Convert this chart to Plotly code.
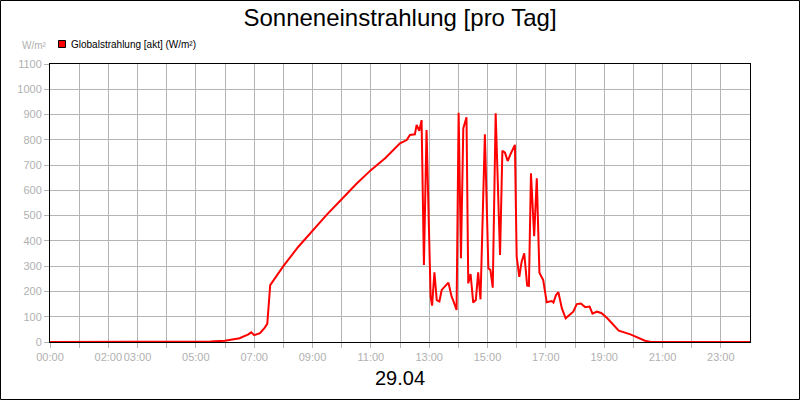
import plotly.graph_objects as go

hours = [0, 5.0, 5.5, 6.0, 6.5, 6.8, 6.9, 7.0, 7.2, 7.35, 7.45, 7.55, 8.0, 8.5, 9.0, 9.5, 10.0, 10.5, 11.0, 11.5, 12.0,
         12.23, 12.34, 12.51, 12.57, 12.66, 12.74, 12.82, 12.91, 13.05, 13.10, 13.18, 13.26, 13.35, 13.43, 13.66, 13.77, 13.82, 13.94,
         14.01, 14.09, 14.17, 14.28, 14.34, 14.42, 14.51, 14.60, 14.68, 14.76, 14.91, 15.03, 15.10, 15.18, 15.28, 15.43, 15.51, 15.60,
         15.69, 15.80, 15.94, 16.0, 16.09, 16.17, 16.26, 16.36, 16.42, 16.49, 16.6, 16.69, 16.78, 16.91, 17.03, 17.2, 17.26, 17.35,
         17.43, 17.55, 17.68, 17.94, 18.06, 18.2, 18.35, 18.5, 18.6, 18.75, 18.9, 19.1, 19.25, 19.5, 19.9, 20.2, 20.4, 20.6, 24.0]
values = [0, 0, 2, 5, 15, 30, 38, 27, 35, 55, 72, 225, 300, 375, 440, 505, 565, 625, 680, 728, 786,
          799, 819, 822, 859, 836, 878, 305, 839, 179, 144, 276, 166, 160, 206, 235, 179, 166, 127,
          907, 331, 845, 889, 232, 269, 156, 166, 276, 169, 822, 292, 285, 215, 905, 344, 757, 749,
          716, 746, 780, 338, 258, 318, 351, 223, 222, 668, 419, 648, 274, 245, 157, 162, 156, 186,
          197, 133, 94, 120, 150, 152, 138, 140, 112, 120, 115, 95, 75, 45, 30, 15, 5, 0, 0]

tick_vals = [0, 2, 3, 5, 7, 9, 11, 13, 15, 17, 19, 21, 23]
tick_text = ["00:00", "02:00", "03:00", "05:00", "07:00", "09:00", "11:00", "13:00", "15:00", "17:00", "19:00", "21:00", "23:00"]
series_name = "Globalstrahlung [akt] (W/m²)"

W, H, L, R, T, B = 800, 400, 50, 50, 64, 58
pw, ph = W - L - R, H - T - B
def px(x): return (x - L) / pw
def py(y): return (H - B - y) / ph

fig = go.Figure()
fig.add_trace(go.Scatter(x=hours, y=values, mode="lines", line=dict(color="#ff0000", width=2),
                         name=series_name, showlegend=False))
grey = "#b4b4b4"
fig.update_layout(
    width=W, height=H, paper_bgcolor="white", plot_bgcolor="white",
    margin=dict(l=L, r=R, t=T, b=B, autoexpand=False),
    font=dict(family="Liberation Sans, Arial", size=11, color="#b0b0b0"),
    showlegend=False,
    title=dict(text="Sonneneinstrahlung [pro Tag]", x=0.5, xanchor="center", xref="container",
               y=1-18/400, yref="container", yanchor="middle",
               font=dict(size=24, color="black")),
    xaxis=dict(range=[0, 24], tickvals=list(range(24)), tickangle=0, automargin=False,
               ticktext=[tick_text[tick_vals.index(h)] if h in tick_vals else "" for h in range(24)],
               showgrid=True, gridcolor=grey, ticks="outside", tickcolor=grey, ticklen=5,
               showline=True, linecolor="black", mirror=True, zeroline=False, tickfont=dict(color="#b0b0b0")),
    yaxis=dict(range=[0, 1100], dtick=100, showgrid=True, gridcolor=grey, ticks="outside", tickcolor=grey, ticklen=5,
               automargin=False,
               showline=True, linecolor="black", mirror=True, zeroline=False, tickfont=dict(color="#b0b0b0")),
    shapes=[dict(type="rect", xref="paper", yref="paper", x0=px(0.5), x1=px(799.5), y0=py(399.5), y1=py(0.5),
                 line=dict(color="black", width=1)),
            dict(type="rect", xref="paper", yref="paper", x0=px(58.5), x1=px(65.5), y0=py(47.5), y1=py(40.5),
                 fillcolor="#ff0000", line=dict(color="black", width=1))],
    annotations=[
        dict(text=series_name, xref="paper", yref="paper", x=px(69), y=py(44), xanchor="left", yanchor="middle",
             showarrow=False, font=dict(size=10, color="black")),
        dict(text="W/m²", xref="paper", yref="paper", x=px(49), y=py(46), xanchor="right", yanchor="middle",
             showarrow=False, font=dict(size=10, color="#b0b0b0")),
        dict(text="29.04", xref="paper", yref="paper", x=0.5, y=py(378), yanchor="middle", showarrow=False,
             font=dict(size=20, color="black")),
    ],
)
fig.write_html("out.html", config={"displayModeBar": False},
               post_script="document.body.style.margin='0';document.body.style.padding='0';")
